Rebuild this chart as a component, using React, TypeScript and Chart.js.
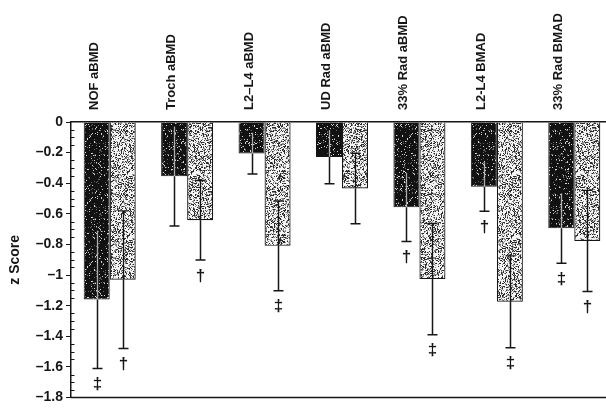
import React, { useEffect, useRef } from 'react';
import { Chart, registerables } from 'chart.js';

Chart.register(...registerables);

const categories = [
  'NOF aBMD',
  'Troch aBMD',
  'L2–L4 aBMD',
  'UD Rad aBMD',
  '33% Rad aBMD',
  'L2-L4 BMAD',
  '33% Rad BMAD',
];

const darkMeans = [-1.16, -0.355, -0.205, -0.228, -0.556, -0.423, -0.694];
const darkSD = [0.45, 0.325, 0.135, 0.176, 0.225, 0.16, 0.228];
const lightMeans = [-1.03, -0.642, -0.809, -0.434, -1.026, -1.174, -0.777];
const lightSD = [0.45, 0.26, 0.293, 0.23, 0.363, 0.3, 0.33];
const darkMarks = ['‡', '', '', '', '†', '†', '‡'];
const lightMarks = ['†', '†', '‡', '', '‡', '‡', '†'];

const yTicksMin = -1.8;
const yTicksMax = 0;
const yStep = 0.2;
const yMinorStep = 0.05;

const FONT = "'Liberation Sans', Arial, Helvetica, sans-serif";
const INK = '#161616';

function makeStipple(base: string, specks: { color: string; density: number }[], seed: number) {
  const c = document.createElement('canvas');
  c.width = 64;
  c.height = 64;
  const g = c.getContext('2d')!;
  g.fillStyle = base;
  g.fillRect(0, 0, 64, 64);
  let s = seed >>> 0;
  for (let y = 0; y < 64; y++) {
    for (let x = 0; x < 64; x++) {
      s = (Math.imul(s, 1664525) + 1013904223) >>> 0;
      const r = s / 4294967296;
      let acc = 0;
      for (const sp of specks) {
        acc += sp.density;
        if (r < acc) {
          g.fillStyle = sp.color;
          g.fillRect(x, y, 1, 1);
          break;
        }
      }
    }
  }
  return g.createPattern(c, 'repeat')!;
}

const overlayPlugin = {
  id: 'overlay',
  afterDatasetsDraw(chart: any) {
    const { ctx, chartArea, scales } = chart;
    const y = scales.y;
    ctx.save();
    // bottom line
    ctx.strokeStyle = INK;
    ctx.lineWidth = 1.5;
    ctx.beginPath();
    ctx.moveTo(chartArea.left, chartArea.bottom);
    ctx.lineTo(chartArea.right, chartArea.bottom);
    ctx.stroke();
    // minor ticks inside the y axis
    ctx.lineWidth = 1;
    const n = Math.round((yTicksMax - yTicksMin) / yMinorStep);
    const perMajor = Math.round(yStep / yMinorStep);
    for (let i = 1; i < n; i++) {
      if (i % perMajor === 0) continue;
      const py = Math.round(y.getPixelForValue(yTicksMax - i * yMinorStep)) + 0.5;
      ctx.beginPath();
      ctx.moveTo(chartArea.left, py);
      ctx.lineTo(chartArea.left + 3.5, py);
      ctx.stroke();
    }
    // error bars + marks
    const series = [
      { means: darkMeans, sds: darkSD, marks: darkMarks, upColor: 'rgba(210,210,210,0.8)', upCap: false },
      { means: lightMeans, sds: lightSD, marks: lightMarks, upColor: INK, upCap: true },
    ];
    series.forEach((s, d) => {
      const meta = chart.getDatasetMeta(d);
      meta.data.forEach((bar: any, i: number) => {
        const x = Math.round(bar.x) + 0.5;
        const yb = y.getPixelForValue(s.means[i]);
        const ylo = y.getPixelForValue(s.means[i] - s.sds[i]);
        const yhi = y.getPixelForValue(s.means[i] + s.sds[i]);
        // upper part
        ctx.strokeStyle = s.upColor;
        ctx.lineWidth = 1.3;
        ctx.beginPath();
        ctx.moveTo(x, yb);
        ctx.lineTo(x, yhi);
        if (s.upCap) {
          ctx.moveTo(x - 5, yhi);
          ctx.lineTo(x + 5, yhi);
        }
        ctx.stroke();
        // lower part
        ctx.strokeStyle = INK;
        ctx.lineWidth = 1.5;
        ctx.beginPath();
        ctx.moveTo(x, yb);
        ctx.lineTo(x, ylo);
        ctx.moveTo(x - 5, ylo);
        ctx.lineTo(x + 5, ylo);
        ctx.stroke();
        const m = s.marks[i];
        if (m) {
          ctx.fillStyle = INK;
          ctx.font = `bold 17px ${FONT}`;
          ctx.textAlign = 'center';
          ctx.textBaseline = 'middle';
          ctx.fillText(m, x, ylo + 16);
        }
      });
    });
    ctx.restore();
  },
  afterDraw(chart: any) {
    const { ctx, chartArea } = chart;
    ctx.save();
    ctx.translate(15, (chartArea.top + chartArea.bottom) / 2);
    ctx.rotate(-Math.PI / 2);
    ctx.fillStyle = INK;
    ctx.font = `bold 14px ${FONT}`;
    ctx.textAlign = 'center';
    ctx.textBaseline = 'middle';
    ctx.fillText('z Score', 0, 0);
    ctx.restore();
  },
};

export default function App() {
  const ref = useRef<HTMLCanvasElement | null>(null);

  useEffect(() => {
    document.documentElement.style.overflow = 'hidden';
    document.body.style.overflow = 'hidden';
    const canvas = ref.current!;
    const darkFill = makeStipple('#121212', [
      { color: '#d8d8d8', density: 0.06 },
      { color: '#6a6a6a', density: 0.06 },
    ], 12345);
    const lightFill = makeStipple('#f4f4f4', [
      { color: '#2a2a2a', density: 0.24 },
      { color: '#8a8a8a', density: 0.22 },
    ], 67890);

    const chart = new Chart(canvas, {
      type: 'bar',
      data: {
        labels: categories,
        datasets: [
          {
            label: 'dark',
            data: darkMeans,
            backgroundColor: darkFill as any,
            borderColor: INK,
            borderWidth: 1,
            categoryPercentage: 0.672,
            barPercentage: 1.0,
          },
          {
            label: 'light',
            data: lightMeans,
            backgroundColor: lightFill as any,
            borderColor: INK,
            borderWidth: 1.2,
            categoryPercentage: 0.672,
            barPercentage: 1.0,
          },
        ],
      },
      options: {
        responsive: false,
        animation: false,
        devicePixelRatio: 1,
        layout: { padding: { left: 0, right: 0, top: 0, bottom: 10 } },
        plugins: {
          legend: { display: false },
          tooltip: { enabled: false },
        },
        scales: {
          x: {
            position: 'top',
            grid: { display: true, drawOnChartArea: false, drawTicks: false },
            border: { display: true, color: INK, width: 1.5 },
            ticks: {
              autoSkip: false,
              minRotation: 90,
              maxRotation: 90,
              padding: 12,
              color: INK,
              font: { family: FONT, size: 13, weight: 'bold' },
            },
            afterFit: (scale: any) => {
              scale.height = 122;
            },
          },
          y: {
            min: yTicksMin,
            max: yTicksMax,
            grid: { display: true, drawOnChartArea: false, drawTicks: true, tickLength: 5, color: INK, lineWidth: 1 },
            border: { display: true, color: INK, width: 1.5 },
            ticks: {
              stepSize: yStep,
              padding: 3,
              color: INK,
              font: { family: FONT, size: 14, weight: 'bold' },
              callback: (v: any) => {
                const r = Math.round(Number(v) * 10) / 10;
                if (r === 0) return '0';
                return (r < 0 ? '–' : '') + String(Math.abs(r));
              },
            },
            afterFit: (scale: any) => {
              scale.width = 71;
            },
          },
        },
      },
      plugins: [overlayPlugin],
    });
    return () => chart.destroy();
  }, []);

  return (
    <canvas
      ref={ref}
      width={613}
      height={409}
      style={{ position: 'fixed', left: 0, top: 0, width: 613, height: 409, background: '#fff' }}
    />
  );
}
